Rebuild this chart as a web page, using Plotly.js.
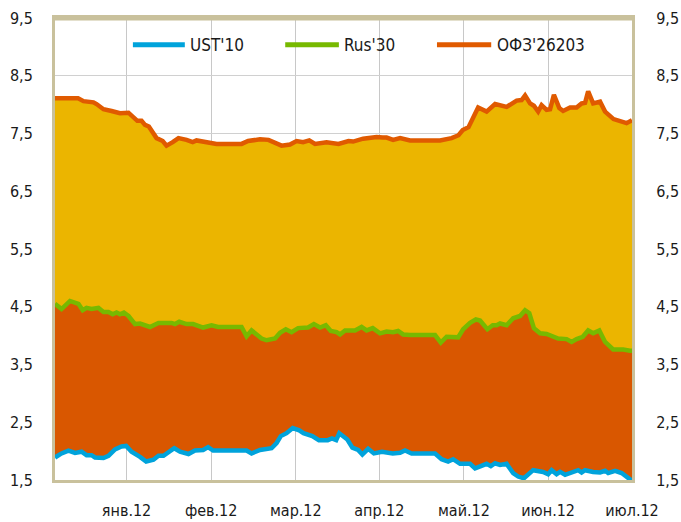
<!DOCTYPE html>
<html>
<head>
<meta charset="utf-8">
<script src="https://cdn.plot.ly/plotly-3.0.1.min.js"></script>
<style>html,body{margin:0;padding:0;background:#fff;}#chart{width:681px;height:522px;}</style>
</head>
<body>
<div id="chart"></div>
<script>
// x = trading-day index from the start of the window
const seriesNames = ["UST'10", "Rus'30", "ОФЗ'26203"];
const monthLabels = ["янв.12", "фев.12", "мар.12", "апр.12", "май.12", "июн.12", "июл.12"];
const monthPos = [18.6, 40.6, 62.6, 84.3, 106.3, 128.2, 150];

const ustX = [0, 1.7, 3.5, 5.2, 6.9, 8.2, 9.5, 10.4, 12.6, 13.9, 15.6, 17.3, 18.5, 19.9, 22.1, 23.7, 25.6, 26.9, 28.2, 29.5, 31.0, 32.5, 34.7, 36.4, 38.5, 39.8, 41.1, 49.8, 51.1, 53.3, 56.3, 57.6, 58.7, 60.2, 61.8, 63.5, 64.6, 66.9, 68.6, 70.9, 72.0, 73.1, 73.9, 76.0, 77.3, 78.8, 79.9, 81.4, 82.9, 85.0, 87.8, 89.7, 91.0, 92.7, 98.8, 100.5, 102.2, 103.5, 105.3, 107.9, 109.2, 112.2, 113.3, 114.4, 115.7, 117.4, 119.1, 120.4, 121.9, 124.3, 126.9, 128.2, 129.1, 130.4, 131.3, 132.6, 134.7, 136.0, 136.9, 137.8, 139.9, 141.7, 143.0, 143.8, 145.6, 147.3, 149.5, 150];
const ustY = [1.89, 1.96, 2.01, 1.97, 1.99, 1.93, 1.93, 1.89, 1.88, 1.92, 2.03, 2.08, 2.09, 1.99, 1.90, 1.82, 1.85, 1.92, 1.92, 1.99, 2.05, 1.99, 1.95, 2.01, 2.02, 2.07, 2.01, 2.01, 1.96, 2.02, 2.05, 2.14, 2.26, 2.31, 2.40, 2.36, 2.31, 2.26, 2.19, 2.19, 2.22, 2.19, 2.31, 2.20, 2.06, 2.02, 1.94, 2.04, 1.96, 1.99, 1.96, 1.97, 2.01, 1.96, 1.96, 1.86, 1.82, 1.86, 1.78, 1.78, 1.70, 1.78, 1.74, 1.79, 1.76, 1.78, 1.62, 1.56, 1.53, 1.67, 1.64, 1.60, 1.67, 1.60, 1.64, 1.59, 1.64, 1.67, 1.63, 1.67, 1.64, 1.63, 1.66, 1.62, 1.66, 1.62, 1.51, 1.50];

const rusX = [0, 1.7, 3.9, 6.1, 7.2, 8.2, 9.5, 11.3, 12.6, 13.9, 15.0, 16.0, 16.9, 17.9, 19.1, 20.8, 22.1, 24.7, 26.9, 30.3, 31.2, 32.3, 34.2, 35.9, 38.5, 40.7, 42.4, 48.5, 49.8, 51.1, 53.7, 55.0, 57.2, 58.5, 60.0, 61.5, 63.2, 64.5, 65.8, 67.3, 68.9, 70.4, 71.7, 73.2, 74.1, 75.4, 78.0, 79.7, 81.0, 82.6, 84.5, 86.2, 87.9, 89.2, 90.5, 92.3, 98.8, 100.3, 101.8, 104.8, 106.1, 107.9, 109.4, 110.5, 112.4, 113.8, 114.8, 115.7, 117.4, 119.1, 120.9, 122.2, 123.3, 124.5, 126.1, 127.8, 130.8, 133.0, 134.3, 135.6, 137.2, 138.6, 139.9, 141.5, 143.0, 145.1, 147.7, 149.5, 150];
const rusY = [4.55, 4.46, 4.60, 4.55, 4.44, 4.48, 4.46, 4.48, 4.41, 4.41, 4.37, 4.40, 4.37, 4.40, 4.34, 4.20, 4.21, 4.15, 4.22, 4.22, 4.20, 4.24, 4.20, 4.20, 4.14, 4.18, 4.15, 4.15, 3.99, 4.09, 3.95, 3.92, 3.95, 4.05, 4.11, 4.06, 4.13, 4.14, 4.14, 4.20, 4.14, 4.18, 4.08, 4.06, 4.02, 4.09, 4.09, 4.15, 4.09, 4.13, 4.04, 4.07, 4.06, 4.08, 4.02, 4.01, 4.01, 3.88, 3.98, 3.97, 4.11, 4.22, 4.28, 4.26, 4.11, 4.18, 4.18, 4.21, 4.18, 4.30, 4.34, 4.44, 4.39, 4.13, 4.04, 4.03, 3.95, 3.94, 3.89, 3.94, 3.98, 4.09, 4.04, 4.09, 3.89, 3.76, 3.76, 3.74, 3.74];

const ofzX = [0, 6.0, 7.4, 10.0, 10.8, 12.6, 14.7, 16.9, 19.1, 20.4, 21.4, 22.5, 23.4, 24.4, 25.5, 26.4, 28.0, 29.0, 30.6, 32.1, 34.2, 35.8, 36.8, 40.3, 42.0, 48.5, 50.2, 53.3, 55.5, 58.9, 61.1, 62.8, 64.5, 66.1, 67.6, 70.6, 73.7, 76.3, 77.5, 80.1, 83.6, 85.2, 86.2, 87.9, 89.7, 92.3, 100.1, 103.1, 104.9, 106.0, 107.5, 110.0, 112.2, 114.4, 117.4, 120.0, 121.3, 122.2, 123.5, 124.5, 125.6, 126.5, 127.8, 128.7, 129.7, 131.1, 132.1, 133.9, 135.6, 136.9, 137.8, 138.6, 139.9, 141.7, 143.0, 145.2, 148.6, 150];
const ofzY = [8.11, 8.11, 8.06, 8.04, 8.01, 7.92, 7.89, 7.85, 7.86, 7.79, 7.72, 7.72, 7.65, 7.62, 7.49, 7.42, 7.37, 7.29, 7.35, 7.42, 7.39, 7.35, 7.38, 7.35, 7.32, 7.32, 7.37, 7.40, 7.39, 7.29, 7.31, 7.37, 7.35, 7.38, 7.32, 7.35, 7.32, 7.37, 7.36, 7.41, 7.44, 7.43, 7.43, 7.39, 7.42, 7.38, 7.38, 7.42, 7.47, 7.56, 7.61, 7.95, 7.88, 8.01, 7.96, 8.07, 8.08, 8.16, 8.02, 7.98, 7.88, 7.99, 7.91, 7.92, 8.17, 7.94, 7.89, 7.95, 7.95, 8.02, 8.03, 8.23, 8.02, 8.05, 7.88, 7.75, 7.68, 7.73];

const yTicks = [1.5, 2.5, 3.5, 4.5, 5.5, 6.5, 7.5, 8.5, 9.5];

const C_UST = '#00A3DB', C_RUS = '#77B900', C_OFZ = '#E05A00';
const FILL_LOW = '#D95700', FILL_HIGH = '#EBB500';
const FRAME = '#C9C19C';
const FONT = '"DejaVu Sans Condensed", "Liberation Sans Narrow", sans-serif';

const traces = [
  {x: ustX, y: ustY, name: seriesNames[0], type: 'scatter', mode: 'lines',
   line: {color: C_UST, width: 4.5}, showlegend: false, hoverinfo: 'skip'},
  {x: rusX, y: rusY, name: seriesNames[1], type: 'scatter', mode: 'lines',
   fill: 'tonexty', fillcolor: FILL_LOW,
   line: {color: C_RUS, width: 4.5}, showlegend: false, hoverinfo: 'skip'},
  {x: ofzX, y: ofzY, name: seriesNames[2], type: 'scatter', mode: 'lines',
   fill: 'tonexty', fillcolor: FILL_HIGH,
   line: {color: C_OFZ, width: 4.5}, showlegend: false, hoverinfo: 'skip'},
  // empty trace so the mirrored right-hand value axis is drawn
  {x: [], y: [], yaxis: 'y2', type: 'scatter', mode: 'lines', showlegend: false, hoverinfo: 'skip'}
];

// manual legend (Excel-style long line keys)
const legColors = [C_UST, C_RUS, C_OFZ];
const legLineX = [[0.135, 0.225], [0.399, 0.492], [0.662, 0.756]];
const legY = 0.942;
const shapes = [];
const annotations = [];
legLineX.forEach((p, i) => {
  shapes.push({type: 'line', xref: 'paper', yref: 'paper', x0: p[0], x1: p[1], y0: legY, y1: legY,
    line: {color: legColors[i], width: 5}});
  annotations.push({xref: 'paper', yref: 'paper', x: p[1] + 0.006, y: legY, xanchor: 'left', yanchor: 'middle',
    text: seriesNames[i], showarrow: false, font: {family: FONT, size: 17, color: '#1a1a1a'}});
});
// thicker top border
shapes.push({type: 'line', xref: 'paper', yref: 'paper', x0: 0, x1: 1, y0: 1, y1: 1,
  line: {color: FRAME, width: 5}});

const layout = {
  width: 681, height: 522,
  margin: {l: 55, r: 49, t: 18, b: 42, pad: 0},
  paper_bgcolor: '#ffffff', plot_bgcolor: '#ffffff',
  separators: ', ',
  showlegend: false,
  font: {family: FONT, size: 16, color: '#1a1a1a'},
  xaxis: {
    range: [0, 150], type: 'linear',
    tickmode: 'array', tickvals: monthPos, ticktext: monthLabels,
    showgrid: true, gridcolor: '#C8C8C8', gridwidth: 1,
    showline: true, linecolor: FRAME, linewidth: 3, mirror: true,
    ticks: '', ticklabelstandoff: 14, zeroline: false,
    tickfont: {family: FONT, size: 16, color: '#1a1a1a'}
  },
  yaxis: {
    range: [1.5, 9.5], tickmode: 'array', tickvals: yTicks, tickformat: '.1f',
    showgrid: true, gridcolor: '#D0D0D0', gridwidth: 1,
    showline: true, linecolor: FRAME, linewidth: 3, mirror: true,
    ticks: '', ticklabelstandoff: 16, zeroline: false,
    tickfont: {family: FONT, size: 16, color: '#1a1a1a'}
  },
  yaxis2: {
    range: [1.5, 9.5], autorange: false, overlaying: 'y', side: 'right', tickmode: 'array', tickvals: yTicks, tickformat: '.1f',
    showgrid: false, showline: false, zeroline: false,
    ticks: 'outside', ticklen: 20, tickcolor: 'rgba(0,0,0,0)',
    tickfont: {family: FONT, size: 16, color: '#1a1a1a'}
  },
  shapes: shapes,
  annotations: annotations
};

Plotly.newPlot('chart', traces, layout, {staticPlot: true, displayModeBar: false});
</script>
</body>
</html>
